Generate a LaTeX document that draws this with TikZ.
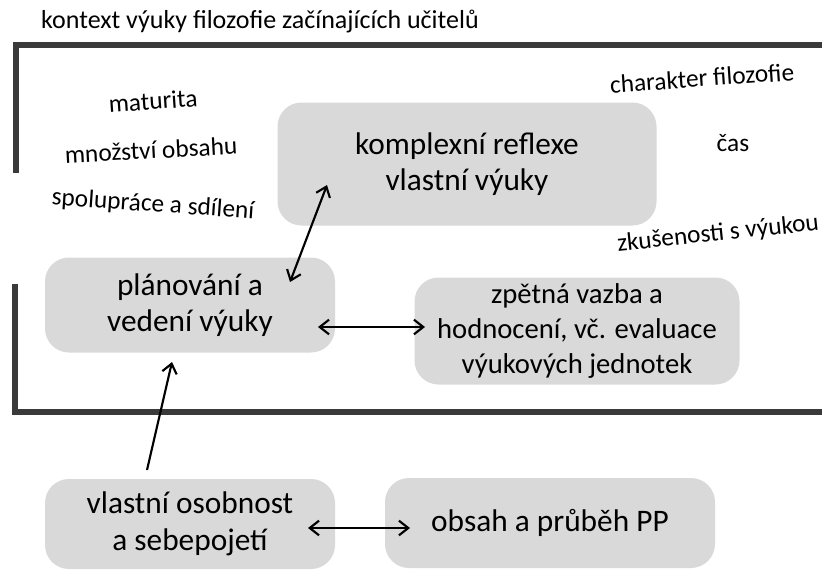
\documentclass[tikz,border=0pt]{standalone}
\usepackage{fontspec}
\setmainfont{Carlito}
\usetikzlibrary{arrows.meta}
\definecolor{boxgray}{HTML}{D9D9D9}
\definecolor{framegray}{HTML}{3A3A3A}
\tikzset{
  box/.style={fill=boxgray, rounded corners=18, inner sep=0pt, align=center, font=\fontsize{23.5}{27.5}\selectfont},
  lbl/.style={font=\fontsize{19}{21}\selectfont, inner sep=0pt},
  conn/.style={line width=1.6pt, {Straight Barb[length=7pt,width=11pt]}-{Straight Barb[length=7pt,width=11pt]}},
  conn1/.style={line width=1.6pt, -{Straight Barb[length=7pt,width=11pt]}},
  frameline/.style={line width=5pt, color=framegray, line join=miter}
}
\begin{document}
\begin{tikzpicture}[x=0.75pt,y=-0.75pt]
\useasboundingbox (0,0) rectangle (822,571);
% frame
\draw[frameline] (822,45) -- (16,45) -- (16,173);
\draw[frameline] (15,284) -- (15,412) -- (822,412);
% title
\node[lbl, font=\fontsize{19.5}{21}\selectfont] (title) at (260,22) {kontext výuky filozofie začínajících učitelů};
% side labels
\node[lbl, rotate=4] (mat) at (153,101) {maturita};
\node[lbl, rotate=3] (obs) at (151,150) {množství obsahu};
\node[lbl, rotate=-4] (spo) at (153,205) {spolupráce a sdílení};
\node[lbl, rotate=4] (cha) at (702,78) {charakter filozofie};
\node[lbl] (cas) at (733,143) {čas};
\node[lbl, rotate=6] (zku) at (718,234) {zkušenosti s výukou};
% boxes
\node[box, minimum width=379*0.75pt, minimum height=123*0.75pt] (A) at (467,164) {komplexní reflexe\\vlastní výuky};
\node[box, minimum width=290*0.75pt, minimum height=95*0.75pt] (B) at (190,305) {plánování a\\vedení výuky};
\node[box, minimum width=325*0.75pt, minimum height=107*0.75pt, font=\fontsize{21.5}{26.5}\selectfont] (C) at (577,331) {zpětná vazba a\\hodnocení, vč. evaluace\\výukových jednotek};
\node[box, minimum width=290*0.75pt, minimum height=90*0.75pt] (D) at (190,524) {vlastní osobnost\\a sebepojetí};
\node[box, minimum width=330*0.75pt, minimum height=90*0.75pt] (E) at (550,523) {obsah a průběh PP};
% connectors
\coordinate (a1) at (290,282);
\coordinate (a2) at (327,185);
\draw[conn] (a1) -- (a2);
\coordinate (b1) at (318,327);
\coordinate (b2) at (425,327);
\draw[conn] (b1) -- (b2);
\coordinate (d1) at (147,470);
\coordinate (d2) at (172,362);
\draw[conn1] (d1) -- (d2);
\coordinate (e1) at (308,528);
\coordinate (e2) at (410,528);
\draw[conn] (e1) -- (e2);
\end{tikzpicture}
\end{document}
